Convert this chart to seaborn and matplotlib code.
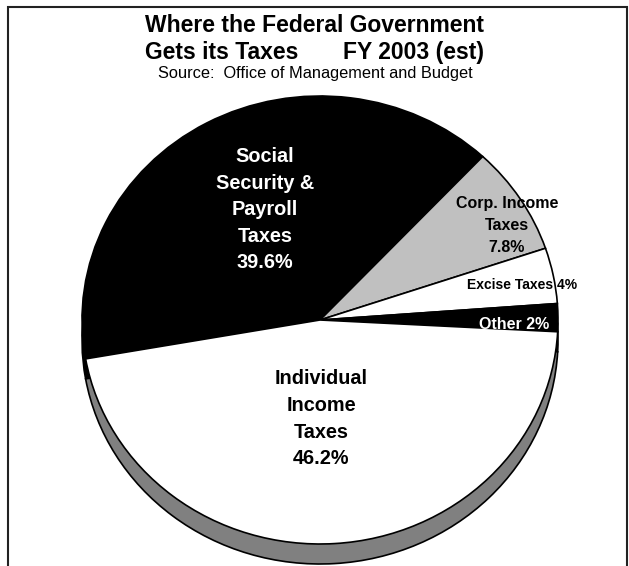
import matplotlib
matplotlib.use("Agg")
import matplotlib.pyplot as plt
import seaborn as sns
from matplotlib.patches import Rectangle

# ---------------- data ----------------
categories = ["Social Security & Payroll Taxes", "Corp. Income Taxes",
              "Excise Taxes", "Other", "Individual Income Taxes"]
shares = [39.6, 7.8, 4.0, 2.0, 46.2]
label_lines = [["Social", "Security &", "Payroll", "Taxes"],
               ["Corp. Income", "Taxes"],
               ["Excise Taxes"],
               ["Other"],
               ["Individual", "Income", "Taxes"]]
title_lines = ["Where the Federal Government",
               "Gets its Taxes       FY 2003 (est)"]
source_text = "Source:  Office of Management and Budget"

# ---------------- style ----------------
face_colors = ["#000000", "#C0C0C0", "#FFFFFF", "#000000", "#FFFFFF"]
side_colors = ["#000000", "#808080", "#808080", "#000000", "#808080"]
text_colors = ["white", "black", "black", "white", "black"]
# label layout: (x px, first-line centre y px, line step px, font pt, pct on same line)
label_layout = [(265, 155, 26.5, 14.3, False),
                (507, 202, 22.0, 11.5, False),
                (522, 284, 0.0, 10.0, True),
                (514, 323, 0.0, 11.5, True),
                (321, 377, 26.7, 14.3, False)]

sns.set_theme(style="white")
plt.rcParams["font.family"] = ["Liberation Sans", "DejaVu Sans"]

W, H, DPI = 629, 566, 100
CX, CY, RX, RY, DEPTH = 320, 320, 238, 224, 20
START = 190

fig = plt.figure(figsize=(W / DPI, H / DPI), dpi=DPI)
fig.patch.set_facecolor("white")
ax = fig.add_axes([0, 0, 1, 1])


def to_data(x, y):
    return (x - CX) / RX, (CY - y) / RY


d = DEPTH / RY
# 3-D side of the pie
ax.add_patch(Rectangle((-1, -d), 2, d, facecolor="black", edgecolor="none", zorder=0.5))
ax.pie(shares, colors=side_colors, startangle=START, counterclock=False,
       center=(0, -d), radius=1,
       wedgeprops=dict(edgecolor="black", linewidth=1.2))
# top face
ax.pie(shares, colors=face_colors, startangle=START, counterclock=False,
       center=(0, 0), radius=1,
       wedgeprops=dict(edgecolor="black", linewidth=1.2))

ax.set_aspect("auto")
ax.set_xlim((0 - CX) / RX, (W - CX) / RX)
ax.set_ylim((CY - H) / RY, CY / RY)
ax.axis("off")

# slice labels
for lines, val, (lx, ly, step, fs, inline), col in zip(label_lines, shares, label_layout, text_colors):
    pct = f"{val:g}%"
    texts = list(lines)
    if inline:
        texts[-1] = texts[-1] + " " + pct
    else:
        texts = texts + [pct]
    em = fs * DPI / 72.0
    for i, t in enumerate(texts):
        cy = ly + i * step
        x, y = to_data(lx, cy + 0.358 * em)
        ax.text(x, y, t, ha="center", va="baseline", fontsize=fs,
                fontweight="bold", color=col, zorder=5)

# titles
TITLE_FS = 16.5
title_y = [24, 51]
for t, ty in zip(title_lines, title_y):
    fig.text(315 / W, 1 - (ty + 0.358 * TITLE_FS * DPI / 72) / H, t, ha="center",
             va="baseline", fontsize=TITLE_FS, fontweight="bold", color="black")
fig.text(315 / W, 1 - (72 + 0.358 * 11.8 * DPI / 72) / H, source_text,
         ha="center", va="baseline", fontsize=11.8, color="black")

# chart frame
fig.add_artist(Rectangle((8 / W, -0.05), (627 - 8) / W, 1 - 7 / H + 0.05,
                         transform=fig.transFigure, fill=False,
                         edgecolor="#222222", linewidth=1.5))

fig.savefig("out.png", dpi=DPI)
